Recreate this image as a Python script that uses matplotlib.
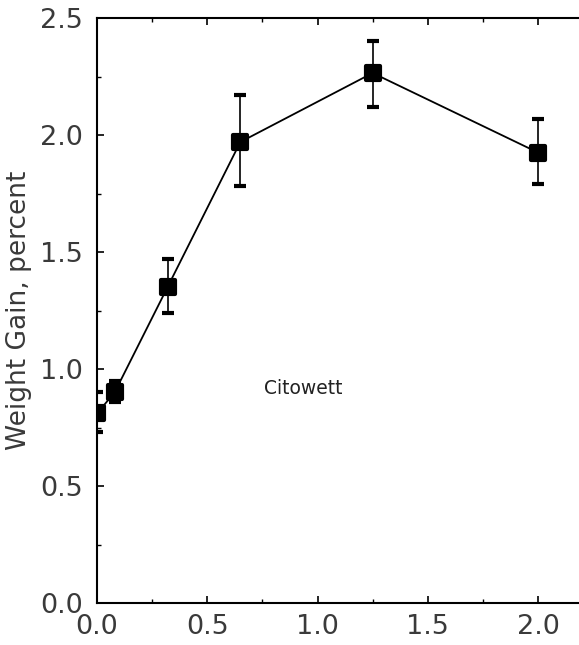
import matplotlib
matplotlib.use("Agg")
import matplotlib.pyplot as plt
from matplotlib.ticker import MultipleLocator
from matplotlib.markers import MarkerStyle

conc = [0.0, 0.08, 0.32, 0.65, 1.25, 2.0]
gain = [0.81, 0.90, 1.35, 1.97, 2.265, 1.925]
err_low = [0.08, 0.04, 0.11, 0.19, 0.145, 0.135]
err_high = [0.09, 0.05, 0.12, 0.20, 0.135, 0.145]
x_ticks = [0.0, 0.5, 1.0, 1.5, 2.0]
y_ticks = [0.0, 0.5, 1.0, 1.5, 2.0, 2.5]
annotation = "Citowett"
ylabel = "Weight Gain, percent"

fig = plt.figure(figsize=(5.79, 6.45), dpi=100)
ax = fig.add_axes([97/579, 42/645, 2.3*220.5/579, 585/645])

ax.errorbar(conc, gain, yerr=[err_low, err_high], color="black", lw=1.3,
            ecolor="black", elinewidth=1.2, capsize=4.5, capthick=1.1,
            marker=MarkerStyle("s", joinstyle="round"), markersize=10.5,
            markeredgewidth=3, zorder=3)

ax.set_xlim(0, 2.3)
ax.set_ylim(0, 2.5)
ax.set_xticks(x_ticks)
ax.set_yticks(y_ticks)
ax.set_xticklabels([f"{v:.1f}" for v in x_ticks])
ax.set_yticklabels([f"{v:.1f}" for v in y_ticks])
ax.xaxis.set_minor_locator(MultipleLocator(0.25))
ax.yaxis.set_minor_locator(MultipleLocator(0.25))
ax.tick_params(which="both", direction="in", top=True, right=False,
               colors="black", labelcolor="#3a3a3a")
ax.tick_params(which="major", length=5, width=1.2, labelsize=19.5, pad=8)
ax.tick_params(axis="y", which="major", pad=10)
ax.tick_params(which="minor", length=3, width=1.0)
for s in ax.spines.values():
    s.set_linewidth(1.5)

ax.set_ylabel(ylabel, fontsize=19, color="#3a3a3a", labelpad=6)
ax.text(0.935, 0.915, annotation, fontsize=13.5, ha="center", va="center",
        color="#222222")

fig.savefig("out.png", dpi=100)
